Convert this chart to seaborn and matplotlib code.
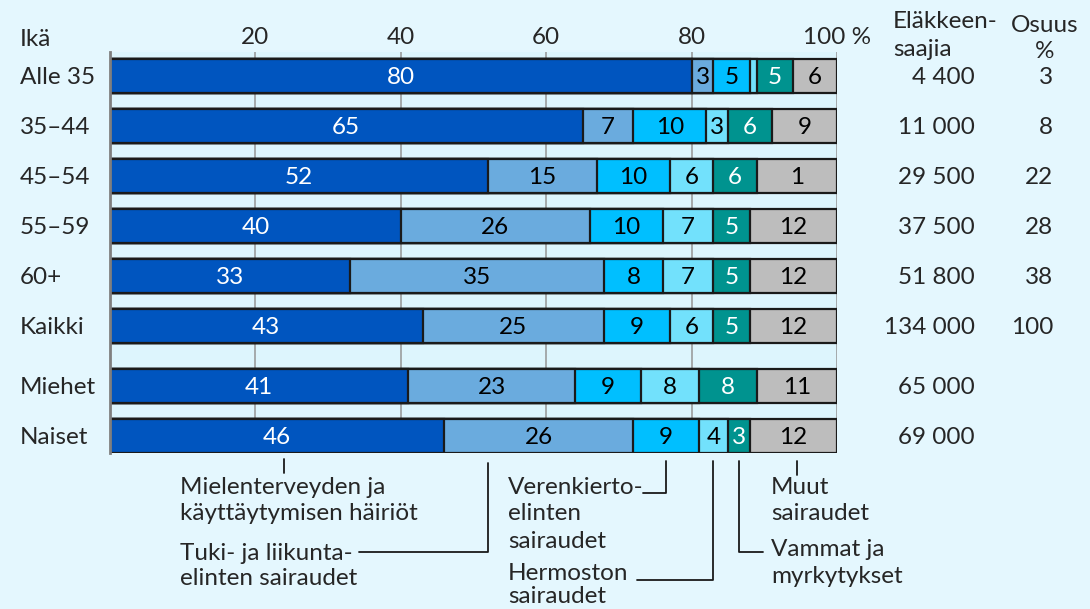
import matplotlib
matplotlib.use("Agg")
import matplotlib.pyplot as plt
import matplotlib.transforms as mtransforms
import numpy as np
import pandas as pd
import seaborn as sns

# ---- data ----
groups = ["Alle 35", "35–44", "45–54", "55–59", "60+", "Kaikki", "Miehet", "Naiset"]
mental = [80, 65, 52, 40, 33, 43, 41, 46]
musculo = [3, 7, 15, 26, 35, 25, 23, 26]
circul = [5, 10, 10, 10, 8, 9, 9, 9]
nerve = [1, 3, 6, 7, 7, 6, 8, 4]
injury = [5, 6, 6, 5, 5, 5, 8, 3]
other = [6, 9, 11, 12, 12, 12, 11, 12]
series_names = ["Mielenterveys", "Tuki", "Verenkierto", "Hermosto", "Vammat", "Muut"]
# printed labels (as in the source; hidden where segment too small)
label_override = {(0, 3): "", (2, 5): "1"}
pensioners = ["4 400", "11 000", "29 500", "37 500", "51 800", "134 000", "65 000", "69 000"]
share = ["3", "8", "22", "28", "38", "100", "", ""]
xticks = [20, 40, 60, 80, 100]
xtick_labels = ["20", "40", "60", "80", "100 %"]
row_pos = [0, 1, 2, 3, 4, 5, 6.2, 7.2]

colors = ["#0055bf", "#6aabde", "#00bfff", "#72e1fc", "#00938f", "#bdbdbd"]
text_colors = ["white", "black", "black", "black", "white", "black"]

series = [mental, musculo, circul, nerve, injury, other]
vals = np.array(series, dtype=float)  # shape (6, 8)
cum = np.cumsum(vals, axis=0)

sns.set_theme(style="white")
plt.rcParams["font.family"] = ["Lato", "DejaVu Sans"]
FS = 17.5

fig = plt.figure(figsize=(10.9, 6.09), dpi=100, facecolor="#e4f7fe")
ax = fig.add_axes([110 / 1090, (609 - 453) / 609, (837 - 110) / 1090, 401 / 609])
ax.set_facecolor("#ddf5fd")

# gridlines
for t in xticks:
    ax.axvline(t, color="#959595", lw=1.1, zorder=0)

# stacked bars: draw cumulative totals from largest to smallest
for i in range(5, -1, -1):
    df = pd.DataFrame({"pos": row_pos, "total": cum[i]})
    sns.barplot(data=df, x="total", y="pos", orient="y", native_scale=True,
                color=colors[i], saturation=1, width=0.68, edgecolor="#1a1a1a",
                linewidth=1.6, ax=ax, zorder=2)

# segment labels
for i in range(6):
    for j in range(len(groups)):
        v = vals[i, j]
        lab = label_override.get((j, i), f"{int(v)}")
        if not lab:
            continue
        xc = cum[i, j] - v / 2
        ax.text(xc, row_pos[j], lab, ha="center", va="center_baseline", fontsize=FS,
                color=text_colors[i], zorder=5)

ax.set_xlim(0, 100)
ax.set_ylim(row_pos[-1] + 0.34, -0.48)
ax.set_xticks(xticks)
ax.set_xticklabels(xtick_labels, fontsize=FS)
ax.xaxis.tick_top()
ax.tick_params(axis="x", length=0, pad=3)
ax.set_yticks([])
ax.set_xlabel("")
ax.set_ylabel("")
for s in ["top", "right", "bottom"]:
    ax.spines[s].set_visible(False)
ax.spines["left"].set_color("#7f7f7f")
ax.spines["left"].set_linewidth(2)

# left labels / right columns in figure pixel units
tr = mtransforms.blended_transform_factory(fig.transFigure, ax.transData)
def fx(px):
    return px / 1090
def fy(py):
    return 1 - py / 609

fig.text(fx(20), fy(38), "Ikä", fontsize=FS, va="center_baseline", ha="left")
for j, g in enumerate(groups):
    ax.text(fx(20), row_pos[j], g, transform=tr, fontsize=FS, va="center_baseline", ha="left")
    ax.text(fx(975), row_pos[j], pensioners[j], transform=tr, fontsize=FS, va="center_baseline", ha="right")
    if share[j]:
        ax.text(fx(1053), row_pos[j], share[j], transform=tr, fontsize=FS, va="center_baseline", ha="right")

fig.text(fx(893), fy(20), "Eläkkeen-", fontsize=FS, va="center_baseline", ha="left")
fig.text(fx(893), fy(47), "saajia", fontsize=FS, va="center_baseline", ha="left")
fig.text(fx(1045), fy(24), "Osuus", fontsize=FS, va="center_baseline", ha="center")
fig.text(fx(1045), fy(50), "%", fontsize=FS, va="center_baseline", ha="center")

# bottom annotations (x in data units, y in figure fraction)
bt = mtransforms.blended_transform_factory(ax.transData, fig.transFigure)
lkw = dict(color="#1a1a1a", lw=1.3, transform=bt, clip_on=False)

def datax(px):
    return (px - 110) / 7.27

def lines(px, ys, texts):
    for yy, tt in zip(ys, texts):
        ax.text(datax(px), fy(yy + 8), tt, transform=bt, fontsize=FS,
                va="baseline", ha="left", clip_on=False)

# Mielenterveys
ax.plot([24, 24], [fy(459), fy(473)], **lkw)
lines(180, [486, 512], ["Mielenterveyden ja", "käyttäytymisen häiriöt"])
# Tuki
lines(180, [552, 577], ["Tuki- ja liikunta-", "elinten sairaudet"])
ax.plot([datax(359), 52, 52], [fy(552), fy(552), fy(463)], **lkw)
# Verenkierto
lines(508, [486, 512, 540], ["Verenkierto-", "elinten", "sairaudet"])
ax.plot([datax(643), 76.5, 76.5], [fy(493), fy(493), fy(461)], **lkw)
# Hermosto
lines(508, [572, 595], ["Hermoston", "sairaudet"])
ax.plot([datax(637), 83, 83], [fy(580), fy(580), fy(461)], **lkw)
# Muut
ax.plot([94.5, 94.5], [fy(461), fy(475)], **lkw)
lines(771, [486, 512], ["Muut", "sairaudet"])
# Vammat
ax.plot([86.5, 86.5, datax(763)], [fy(461), fy(552), fy(552)], **lkw)
lines(771, [548, 575], ["Vammat ja", "myrkytykset"])

fig.savefig("out.png", dpi=100, facecolor=fig.get_facecolor())
